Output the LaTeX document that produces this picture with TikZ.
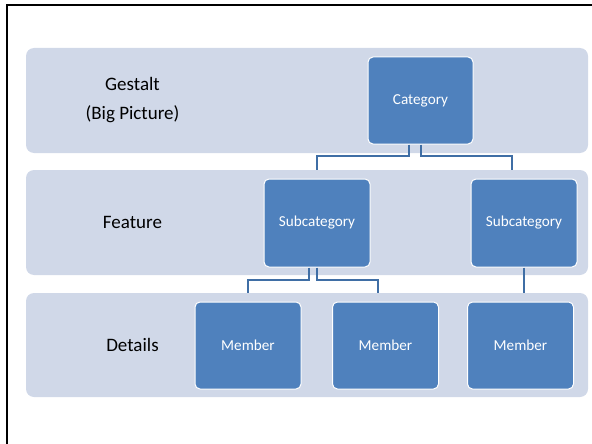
\documentclass[tikz,border=0pt]{standalone}
\usepackage{fontspec}
\setmainfont{Carlito}
\usetikzlibrary{calc}
\definecolor{bandfill}{HTML}{D0D8E8}
\definecolor{boxfill}{HTML}{4F81BD}
\definecolor{linkblue}{HTML}{3F6EA5}
\begin{document}
\begin{tikzpicture}[x=1pt,y=-1pt,
  band/.style={fill=bandfill, rounded corners=8pt, inner sep=0pt,
    minimum width=562pt, minimum height=105pt},
  box/.style={fill=boxfill, draw=white, line width=1pt, rounded corners=5pt,
    minimum width=106pt, minimum height=88pt, inner sep=0pt, text=white,
    font=\fontsize{15.2}{18}\selectfont},
  tier/.style={font=\fontsize{19}{29}\selectfont, align=center, text=black},
  link/.style={draw=linkblue, line width=2pt}]
\useasboundingbox (0,0) rectangle (592,444);

% outer frame (top and left edges)
\draw[line width=2pt] (7,446) -- (7,5) -- (594,5);

% tier bands
\node[band] (b1) at (307,100.5) {};
\node[band] (b2) at (307,222.5) {};
\node[band, minimum height=104pt] (b3) at (307,345) {};

% tier labels
\node[tier] (t1) at (132.5,100) {Gestalt\\(Big Picture)};
\node[tier] (t2) at (132.5,222.5) {Feature};
\node[tier] (t3) at (132.5,345) {Details};

% hierarchy boxes
\node[box, minimum width=105pt, minimum height=87pt] (cat) at (420.5,100.5) {Category};
\node[box] (sub1) at (317,223) {Subcategory};
\node[box] (sub2) at (524,223) {Subcategory};
\node[box, minimum height=87pt] (m1) at (248,345.5) {Member};
\node[box, minimum height=87pt] (m2) at (385.5,345.5) {Member};
\node[box, minimum height=87pt] (m3) at (520.5,345.5) {Member};

% connectors
\draw[link] ($(cat.south)+(-12,0)$) -- ++(0,11) -| (sub1.north |- b2.north);
\draw[link] (cat.south) -- ++(0,11) -| ($(sub2.north |- b2.north)+(-12,0)$);
\draw[link] ($(sub1.south)+(-8,0)$) -- ++(0,12) -| (m1.north |- b3.north);
\draw[link] (sub1.south) -- ++(0,12) -| ($(m2.north |- b3.north)+(-7.5,0)$);
\draw[link] (sub2.south) -- (sub2.south |- b3.north);
\end{tikzpicture}
\end{document}
